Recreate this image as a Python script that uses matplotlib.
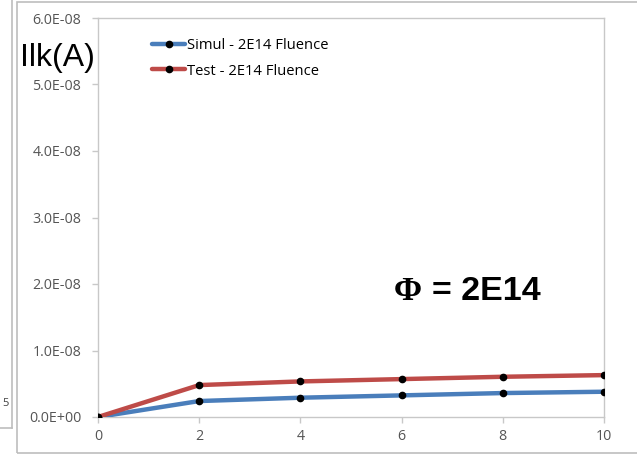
import matplotlib
matplotlib.use("Agg")
import matplotlib.pyplot as plt
from matplotlib.ticker import FuncFormatter, FixedLocator
from matplotlib.patches import Rectangle
from matplotlib.lines import Line2D

# Leakage current vs. time for fluence 2E14
x_vals = [0, 2, 4, 6, 8, 10]
simul = [0.0, 0.24e-8, 0.29e-8, 0.325e-8, 0.36e-8, 0.38e-8]
test = [0.0, 0.48e-8, 0.535e-8, 0.57e-8, 0.605e-8, 0.63e-8]
series_names = ["Simul - 2E14 Fluence", "Test - 2E14 Fluence"]
y_ticks = [0, 1e-8, 2e-8, 3e-8, 4e-8, 5e-8, 6e-8]
x_ticks = [0, 2, 4, 6, 8, 10]

W, H = 637, 455
fig = plt.figure(figsize=(W / 100, H / 100), dpi=100)
fig.patch.set_facecolor("white")

def px(x0, y0, x1, y1):
    return [x0 / W, 1 - y1 / H, (x1 - x0) / W, (y1 - y0) / H]

# frame of the neighbouring panel and the chart area
border = "#bdbdbd"
fig.add_artist(Line2D([12 / W, 12 / W], [1, 1 - 428 / H], color=border, lw=1.2))
fig.add_artist(Line2D([0, 12 / W], [1 - 428 / H, 1 - 428 / H], color=border, lw=1.2))
fig.text(2 / W, 1 - 404 / H, "5", fontsize=8, color="#404040", va="center", family="Open Sans")
fig.add_artist(Rectangle((17 / W, 1 - 453 / H), 1.0, (453 - 2) / H,
                         fill=False, edgecolor=border, lw=1.2, transform=fig.transFigure))

ax = fig.add_axes(px(98, 18, 604, 417))
blue = "#4a7ebb"
red = "#be4b48"
ax.plot(x_vals, simul, color=blue, lw=3.2, marker="o", ms=4.5, mfc="black", mec="black",
        label=series_names[0], zorder=3, solid_capstyle="round")
ax.plot(x_vals, test, color=red, lw=3.2, marker="o", ms=4.5, mfc="black", mec="black",
        label=series_names[1], zorder=4, solid_capstyle="round")

ax.set_xlim(0, 10)
ax.set_ylim(0, 6e-8)
ax.xaxis.set_major_locator(FixedLocator(x_ticks))
ax.yaxis.set_major_locator(FixedLocator(y_ticks))
ax.yaxis.set_major_formatter(FuncFormatter(lambda v, p: "{:.1E}".format(v)))
for s in ax.spines.values():
    s.set_color("#c8c8c8")
    s.set_linewidth(1.0)
ax.tick_params(axis="both", colors="#c8c8c8", labelcolor="#555555", labelsize=10.3,
               length=4, width=1)
ax.tick_params(axis="y", pad=8)
ax.tick_params(axis="x", pad=5)
for lab in ax.get_xticklabels() + ax.get_yticklabels():
    lab.set_family("Open Sans")

leg = ax.legend(loc="upper left", bbox_to_anchor=(152 / W, 1 - 38 / H),
                bbox_transform=fig.transFigure, frameon=False,
                handlelength=2.25, handletextpad=0.15, labelspacing=0.72,
                borderaxespad=0, borderpad=0, prop={"family": "Open Sans", "size": 10.6})

fig.text(20 / W, 1 - 58 / H, "Ilk(A)", fontsize=23, family="Liberation Sans",
         va="center", ha="left", color="black")
fig.text(394 / W, 1 - 291 / H, "\u03a6", fontsize=24.5, family="Liberation Serif",
         weight="bold", va="center", ha="left", color="black")
fig.text(432 / W, 1 - 291 / H, "= 2E14", fontsize=24.5, family="Liberation Sans",
         weight="bold", va="center", ha="left", color="black")

fig.savefig("out.png", dpi=100)
